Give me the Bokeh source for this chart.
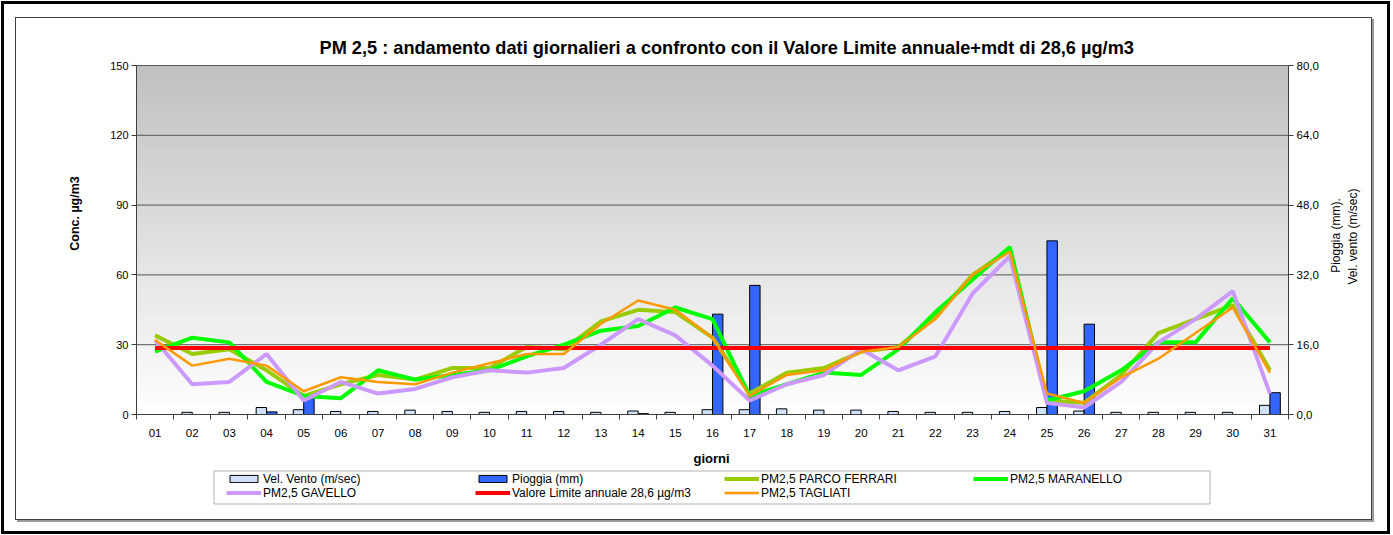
import math
import numpy as np
from bokeh.plotting import figure
from bokeh.models import (Range1d, LinearAxis, FixedTicker, Legend, LegendItem, Label,
                          PolyAnnotation, ColumnDataSource)
from bokeh.transform import dodge
from bokeh.embed import file_html
from bokeh.resources import INLINE

# ---------------- data ----------------
giorni = ["01", "02", "03", "04", "05", "06", "07", "08", "09", "10", "11", "12", "13", "14", "15", "16",
          "17", "18", "19", "20", "21", "22", "23", "24", "25", "26", "27", "28", "29", "30", "31"]
vel_vento = [0.0, 0.5, 0.5, 1.6, 1.1, 0.7, 0.7, 1.0, 0.7, 0.5, 0.7, 0.7, 0.5, 0.8, 0.5, 1.1,
             1.1, 1.3, 1.0, 1.0, 0.7, 0.5, 0.5, 0.7, 1.6, 0.8, 0.5, 0.5, 0.5, 0.5, 2.1]
pioggia = [0, 0, 0, 0.6, 3.8, 0, 0, 0, 0, 0, 0, 0, 0, 0.2, 0, 23.0,
           29.6, 0, 0, 0, 0, 0, 0, 0, 39.8, 20.7, 0, 0, 0, 0, 5.0]
parco_ferrari = [34, 26, 28, 19, 8, 13, 17, 15, 20, 20, 29, 28, 40, 45, 44, 33,
                 9, 18, 20, 27, 29, 42, 60, 71, 6, 5, 17, 35, 41, 47, 19]
maranello = [27, 33, 31, 14, 8, 7, 19, 15, 17, 19, 25, 30, 36, 38, 46, 41,
             8, 13, 18, 17, 28, 44, 58, 72, 6, 10, 19, 31, 31, 50, 31]
gavello = [32, 13, 14, 26, 6, 14, 9, 11, 16, 19, 18, 20, 30, 41, 34, 21,
           6, 13, 17, 28, 19, 25, 52, 68, 5, 3, 14, 31, 41, 53, 9]
tagliati = [32, 21, 24, 21, 10, 16, 14, 13, 18, 22, 26, 26, 39, 49, 45, 33,
            8, 17, 19, 27, 29, 41, 60, 70, 9, 5, 16, 24, 35, 46, 18]
valore_limite = [28.6] * 31
conc_ticks = [0, 30, 60, 90, 120, 150]
meteo_ticks = [0, 16, 32, 48, 64, 80]

title_text = "PM 2,5 : andamento  dati giornalieri  a confronto con il Valore Limite annuale+mdt  di 28,6 \u00b5g/m3"

xs = list(range(1, len(giorni) + 1))
src = ColumnDataSource(dict(x=xs, vento=vel_vento, pioggia=pioggia, ferrari=parco_ferrari,
                            maranello=maranello, gavello=gavello, tagliati=tagliati,
                            limite=valore_limite))

FONT = "Liberation Sans"

# ---------------- geometry (pixels of the 1393x535 canvas) ----------------
W, H = 1393, 535
PL, PR, PT, PB = 136, 1288, 65, 414          # plot area edges
N = len(giorni)
x_lo, x_hi = 0.5, N + 0.5
ppx = (PR - PL) / (x_hi - x_lo)
x_start = x_lo - PL / ppx
x_end = x_lo + (W - PL) / ppx
c_lo, c_hi = conc_ticks[0], conc_ticks[-1]
m_lo, m_hi = meteo_ticks[0], meteo_ticks[-1]
pcy = (PB - PT) / (c_hi - c_lo)
pmy = (PB - PT) / (m_hi - m_lo)

p = figure(width=W, height=H, output_backend="svg", toolbar_location=None, title=None,
           x_range=Range1d(x_start, x_end),
           y_range=Range1d(c_lo - (H - PB) / pcy, c_hi + PT / pcy),
           min_border=0, min_border_left=0, min_border_right=0, min_border_top=0, min_border_bottom=0,
           background_fill_color=None, border_fill_color=None, outline_line_color=None)
p.extra_y_ranges = {"meteo": Range1d(m_lo - (H - PB) / pmy, m_hi + PT / pmy)}
p.xgrid.visible = False
p.ygrid.visible = False


# chart boxes (outer black frame, inner grey frame with shadow) painted as CSS background
def rect(x, y, w, h, c):
    return ("linear-gradient(%s, %s)" % (c, c), "%dpx %dpx" % (w, h), "%dpx %dpx" % (x, y))


boxes = [
    rect(1, 1, 1389, 3, "#000"), rect(1, 531, 1389, 3, "#000"),
    rect(1, 1, 3, 533, "#000"), rect(1387, 1, 3, 533, "#000"),
    rect(15, 17, 1357, 1, "#404040"), rect(15, 519, 1357, 1, "#404040"),
    rect(15, 17, 1, 503, "#404040"), rect(1371, 17, 1, 503, "#404040"),
    rect(1372, 19, 2, 503, "#9a9a9a"), rect(17, 520, 1357, 2, "#9a9a9a"),
]
p.styles = {
    "background-color": "white",
    "background-image": ", ".join(b[0] for b in boxes),
    "background-size": ", ".join(b[1] for b in boxes),
    "background-position": ", ".join(b[2] for b in boxes),
    "background-repeat": "no-repeat",
}

# gradient background of the plot area (decoration)
edges = np.linspace(c_lo, c_hi, 76)
bot = edges[:-1]
top = np.minimum(edges[1:] + 0.6, c_hi)
mid = (edges[:-1] + edges[1:]) / 2
shade = (255 - mid / c_hi * 63).round().astype(int)
cols = ["#%02x%02x%02x" % (v, v, v) for v in shade]
p.quad(left=x_lo, right=x_hi, bottom=bot, top=top, fill_color=cols, line_color=None, level="image")

# horizontal grid lines at the concentration ticks
p.segment(x0=x_lo, x1=x_hi, y0=conc_ticks, y1=conc_ticks, line_color="#555555", line_width=1,
          level="underlay")

# bars
r_vento = p.vbar(x=dodge("x", -0.14, range=p.x_range), top="vento", width=0.28, source=src,
                 y_range_name="meteo", fill_color="#cfe2f8", line_color="black", line_width=1)
r_pioggia = p.vbar(x=dodge("x", 0.14, range=p.x_range), top="pioggia", width=0.28, source=src,
                   y_range_name="meteo", fill_color="#3366ff", line_color="black", line_width=1)

# lines
r_ferrari = p.line("x", "ferrari", source=src, line_color="#99cc00", line_width=4)
r_maranello = p.line("x", "maranello", source=src, line_color="#00ff00", line_width=4)
r_gavello = p.line("x", "gavello", source=src, line_color="#cc99ff", line_width=4)
r_limite = p.line("x", "limite", source=src, line_color="#ff0000", line_width=4)
r_tagliati = p.line("x", "tagliati", source=src, line_color="#ff9900", line_width=2.5)

# left axis
ya = p.yaxis[0]
ya.fixed_location = x_lo
ya.bounds = (c_lo, c_hi)
ya.ticker = FixedTicker(ticks=conc_ticks)
ya.axis_line_color = "#404040"
ya.major_tick_line_color = "#404040"
ya.major_tick_in = 0
ya.major_tick_out = 5
ya.minor_tick_line_color = None
ya.major_label_standoff = 3
ya.major_label_text_font = FONT
ya.major_label_text_font_size = "11px"
ya.major_label_text_color = "black"

# bottom axis
xa = p.xaxis[0]
xa.fixed_location = c_lo
xa.bounds = (x_lo, x_hi)
bounds = [x - 0.5 for x in xs] + [xs[-1] + 0.5]
xa.ticker = FixedTicker(ticks=xs, minor_ticks=bounds)
xa.major_label_overrides = {x: g for x, g in zip(xs, giorni)}
xa.axis_line_color = "#404040"
xa.major_tick_line_color = None
xa.major_tick_in = 0
xa.major_tick_out = 0
xa.minor_tick_line_color = "#404040"
xa.minor_tick_in = 0
xa.minor_tick_out = 5
xa.major_label_standoff = 9
xa.major_label_text_font = FONT
xa.major_label_text_font_size = "11.5px"
xa.major_label_text_color = "black"

# right axis
ra = LinearAxis(y_range_name="meteo", ticker=FixedTicker(ticks=meteo_ticks),
                fixed_location=x_hi, bounds=(m_lo, m_hi))
ra.major_label_overrides = {t: ("%.1f" % t).replace(".", ",") for t in meteo_ticks}
ra.axis_line_color = "#404040"
ra.major_tick_line_color = "#404040"
ra.major_tick_in = 0
ra.major_tick_out = 5
ra.minor_tick_line_color = None
ra.major_label_standoff = 3
ra.major_label_text_font = FONT
ra.major_label_text_font_size = "11.5px"
ra.major_label_text_color = "black"
p.add_layout(ra, "right")


# texts (screen units: origin at bottom-left of canvas)
def lab(text, X, Y, size, bold=False, angle=0.0, baseline="middle", align="center"):
    p.add_layout(Label(x=X, y=H - Y, x_units="screen", y_units="screen", text=text, angle=angle,
                       text_align=align, text_baseline=baseline, text_font=FONT,
                       text_font_size=size, text_font_style="bold" if bold else "normal",
                       text_color="black"))


lab(title_text, 319, 47.5, "18.2px", bold=True, baseline="alphabetic", align="left")
lab("Conc. \u00b5g/m3", 74, 213, "12.5px", bold=True, angle=math.pi / 2)
lab("Pioggia (mm).", 1335, 235, "12px", angle=math.pi / 2)
lab("Vel. vento (m/sec)", 1352, 236, "12px", angle=math.pi / 2)
lab("giorni", 711, 458, "13px", bold=True)

# legend box + legend
p.add_layout(PolyAnnotation(xs=[213.5, 1209.5, 1209.5, 213.5],
                            ys=[H - 470.5, H - 470.5, H - 503.5, H - 503.5],
                            xs_units="screen", ys_units="screen", fill_color="white", fill_alpha=1,
                            line_color="black", line_width=1))
legend = Legend(items=[
    LegendItem(label="Vel. Vento (m/sec)", renderers=[r_vento]),
    LegendItem(label="Pioggia (mm)", renderers=[r_pioggia]),
    LegendItem(label="PM2,5 PARCO FERRARI", renderers=[r_ferrari]),
    LegendItem(label="PM2,5 MARANELLO", renderers=[r_maranello]),
    LegendItem(label="PM2,5 GAVELLO", renderers=[r_gavello]),
    LegendItem(label="Valore Limite annuale 28,6 \u00b5g/m3", renderers=[r_limite]),
    LegendItem(label="PM2,5 TAGLIATI", renderers=[r_tagliati]),
], orientation="horizontal", ncols=4, location=(226, H - 499.5),
    padding=0, spacing=0, margin=0, glyph_width=35, glyph_height=9, label_height=14,
    label_width=212, label_standoff=2, label_text_font=FONT, label_text_font_size="12px",
    label_text_color="black", background_fill_alpha=0, border_line_color=None)
p.add_layout(legend)

open("out.html", "w").write(file_html(p, INLINE))
